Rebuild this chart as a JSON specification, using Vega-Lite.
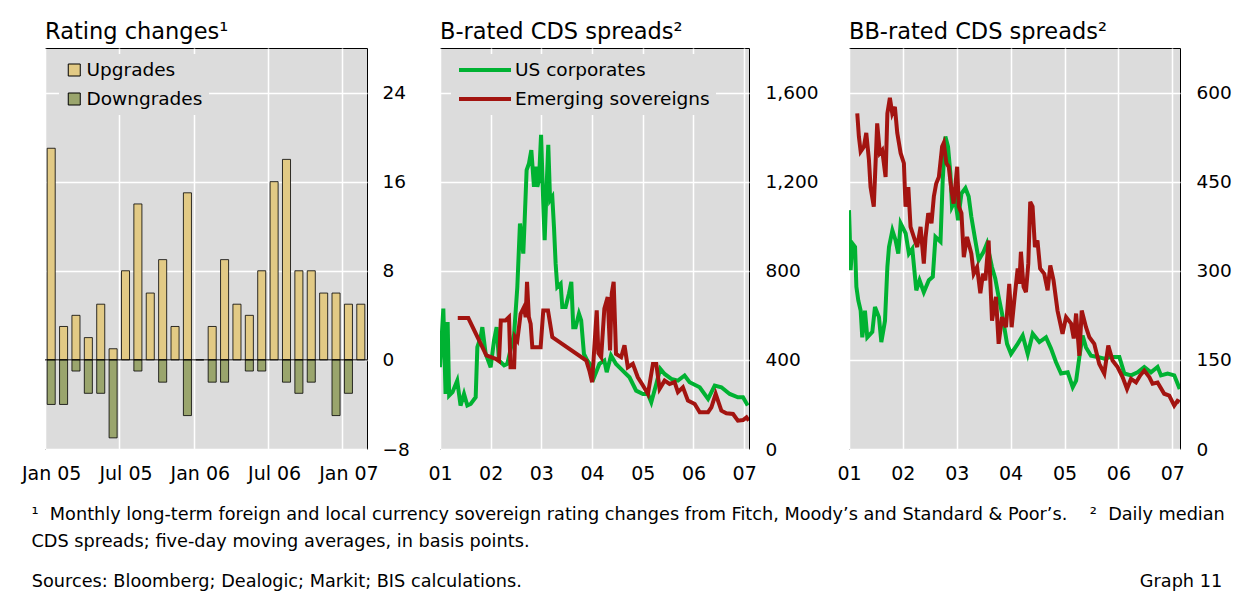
{
  "$schema": "https://vega.github.io/schema/vega-lite/v6.json",
  "background": "white",
  "padding": {"left": 20, "top": 20, "right": 0, "bottom": 0},
  "autosize": {"type": "pad"},
  "config": {
    "font": "DejaVu Sans",
    "view": {"fill": "#dcdcdc", "stroke": "#000000", "strokeWidth": 1},
    "axis": {"labelFontSize": 19, "labelColor": "#000000", "ticks": false, "domain": false, "grid": true, "gridColor": "#ffffff", "gridWidth": 1.5, "gridOpacity": 1, "labelAngle": 0,
      "titleFontSize": 17.7, "titleFontWeight": "normal", "titleColor": "#000000", "titleBaseline": "alphabetic", "titleLineHeight": 27},
    "axisY": {"labelFontSize": 18.5},
    "legend": {"labelFontSize": 18.5, "labelColor": "#000000", "fillColor": "#dcdcdc", "padding": 6, "clipHeight": 20, "rowPadding": 9, "labelLimit": 400},
    "title": {"fontSize": 22.5, "fontWeight": "normal", "color": "#000000", "anchor": "start", "frame": "group", "offset": 5}
  },
  "datasets": {
    "ratings": [
      {"month": "Jan 05", "type": "Upgrades", "value": 19}, {"month": "Feb 05", "type": "Upgrades", "value": 3},
      {"month": "Mar 05", "type": "Upgrades", "value": 4}, {"month": "Apr 05", "type": "Upgrades", "value": 2},
      {"month": "May 05", "type": "Upgrades", "value": 5}, {"month": "Jun 05", "type": "Upgrades", "value": 1},
      {"month": "Jul 05", "type": "Upgrades", "value": 8}, {"month": "Aug 05", "type": "Upgrades", "value": 14},
      {"month": "Sep 05", "type": "Upgrades", "value": 6}, {"month": "Oct 05", "type": "Upgrades", "value": 9},
      {"month": "Nov 05", "type": "Upgrades", "value": 3}, {"month": "Dec 05", "type": "Upgrades", "value": 15},
      {"month": "Jan 06", "type": "Upgrades", "value": 0}, {"month": "Feb 06", "type": "Upgrades", "value": 3},
      {"month": "Mar 06", "type": "Upgrades", "value": 9}, {"month": "Apr 06", "type": "Upgrades", "value": 5},
      {"month": "May 06", "type": "Upgrades", "value": 4}, {"month": "Jun 06", "type": "Upgrades", "value": 8},
      {"month": "Jul 06", "type": "Upgrades", "value": 16}, {"month": "Aug 06", "type": "Upgrades", "value": 18},
      {"month": "Sep 06", "type": "Upgrades", "value": 8}, {"month": "Oct 06", "type": "Upgrades", "value": 8},
      {"month": "Nov 06", "type": "Upgrades", "value": 6}, {"month": "Dec 06", "type": "Upgrades", "value": 6},
      {"month": "Jan 07", "type": "Upgrades", "value": 5}, {"month": "Feb 07", "type": "Upgrades", "value": 5},
      {"month": "Jan 05", "type": "Downgrades", "value": -4}, {"month": "Feb 05", "type": "Downgrades", "value": -4},
      {"month": "Mar 05", "type": "Downgrades", "value": -1}, {"month": "Apr 05", "type": "Downgrades", "value": -3},
      {"month": "May 05", "type": "Downgrades", "value": -3}, {"month": "Jun 05", "type": "Downgrades", "value": -7},
      {"month": "Aug 05", "type": "Downgrades", "value": -1}, {"month": "Oct 05", "type": "Downgrades", "value": -2},
      {"month": "Dec 05", "type": "Downgrades", "value": -5}, {"month": "Feb 06", "type": "Downgrades", "value": -2},
      {"month": "Mar 06", "type": "Downgrades", "value": -2}, {"month": "May 06", "type": "Downgrades", "value": -1},
      {"month": "Jun 06", "type": "Downgrades", "value": -1}, {"month": "Aug 06", "type": "Downgrades", "value": -2},
      {"month": "Sep 06", "type": "Downgrades", "value": -3}, {"month": "Oct 06", "type": "Downgrades", "value": -2},
      {"month": "Dec 06", "type": "Downgrades", "value": -5}, {"month": "Jan 07", "type": "Downgrades", "value": -3}
    ],
    "b": [
      {"date": "2001-01-01", "series": "US corporates", "value": 367},
      {"date": "2001-01-25", "series": "US corporates", "value": 630},
      {"date": "2001-02-10", "series": "US corporates", "value": 247},
      {"date": "2001-02-25", "series": "US corporates", "value": 570},
      {"date": "2001-03-08", "series": "US corporates", "value": 240},
      {"date": "2001-04-01", "series": "US corporates", "value": 255},
      {"date": "2001-05-05", "series": "US corporates", "value": 307},
      {"date": "2001-05-29", "series": "US corporates", "value": 195},
      {"date": "2001-06-23", "series": "US corporates", "value": 247},
      {"date": "2001-07-17", "series": "US corporates", "value": 195},
      {"date": "2001-08-10", "series": "US corporates", "value": 202},
      {"date": "2001-09-15", "series": "US corporates", "value": 232},
      {"date": "2001-09-27", "series": "US corporates", "value": 457},
      {"date": "2001-10-21", "series": "US corporates", "value": 502},
      {"date": "2001-11-02", "series": "US corporates", "value": 547},
      {"date": "2001-11-26", "series": "US corporates", "value": 427},
      {"date": "2002-01-01", "series": "US corporates", "value": 367},
      {"date": "2002-01-25", "series": "US corporates", "value": 487},
      {"date": "2002-02-13", "series": "US corporates", "value": 547},
      {"date": "2002-03-02", "series": "US corporates", "value": 397},
      {"date": "2002-04-08", "series": "US corporates", "value": 375},
      {"date": "2002-05-01", "series": "US corporates", "value": 382},
      {"date": "2002-06-19", "series": "US corporates", "value": 517},
      {"date": "2002-07-12", "series": "US corporates", "value": 727},
      {"date": "2002-07-31", "series": "US corporates", "value": 1012},
      {"date": "2002-08-24", "series": "US corporates", "value": 877},
      {"date": "2002-09-03", "series": "US corporates", "value": 1027},
      {"date": "2002-09-17", "series": "US corporates", "value": 1252},
      {"date": "2002-10-04", "series": "US corporates", "value": 1282},
      {"date": "2002-10-21", "series": "US corporates", "value": 1342},
      {"date": "2002-11-09", "series": "US corporates", "value": 1177},
      {"date": "2002-11-21", "series": "US corporates", "value": 1267},
      {"date": "2002-12-03", "series": "US corporates", "value": 1177},
      {"date": "2002-12-15", "series": "US corporates", "value": 1207},
      {"date": "2002-12-30", "series": "US corporates", "value": 1410},
      {"date": "2003-01-15", "series": "US corporates", "value": 1102},
      {"date": "2003-01-25", "series": "US corporates", "value": 937},
      {"date": "2003-02-08", "series": "US corporates", "value": 1177},
      {"date": "2003-02-20", "series": "US corporates", "value": 1365},
      {"date": "2003-03-05", "series": "US corporates", "value": 1117},
      {"date": "2003-03-21", "series": "US corporates", "value": 1132},
      {"date": "2003-04-02", "series": "US corporates", "value": 997},
      {"date": "2003-04-14", "series": "US corporates", "value": 832},
      {"date": "2003-04-26", "series": "US corporates", "value": 727},
      {"date": "2003-05-20", "series": "US corporates", "value": 742},
      {"date": "2003-06-01", "series": "US corporates", "value": 637},
      {"date": "2003-06-25", "series": "US corporates", "value": 637},
      {"date": "2003-07-19", "series": "US corporates", "value": 697},
      {"date": "2003-08-05", "series": "US corporates", "value": 750},
      {"date": "2003-08-19", "series": "US corporates", "value": 547},
      {"date": "2003-09-05", "series": "US corporates", "value": 547},
      {"date": "2003-09-29", "series": "US corporates", "value": 607},
      {"date": "2003-10-15", "series": "US corporates", "value": 577},
      {"date": "2003-11-04", "series": "US corporates", "value": 427},
      {"date": "2003-11-28", "series": "US corporates", "value": 397},
      {"date": "2003-12-17", "series": "US corporates", "value": 382},
      {"date": "2004-01-16", "series": "US corporates", "value": 322},
      {"date": "2004-02-23", "series": "US corporates", "value": 382},
      {"date": "2004-03-30", "series": "US corporates", "value": 397},
      {"date": "2004-04-16", "series": "US corporates", "value": 345},
      {"date": "2004-05-17", "series": "US corporates", "value": 420},
      {"date": "2004-06-22", "series": "US corporates", "value": 382},
      {"date": "2004-08-09", "series": "US corporates", "value": 352},
      {"date": "2004-09-27", "series": "US corporates", "value": 322},
      {"date": "2004-11-14", "series": "US corporates", "value": 262},
      {"date": "2005-01-02", "series": "US corporates", "value": 247},
      {"date": "2005-02-07", "series": "US corporates", "value": 247},
      {"date": "2005-03-03", "series": "US corporates", "value": 210},
      {"date": "2005-04-08", "series": "US corporates", "value": 292},
      {"date": "2005-05-07", "series": "US corporates", "value": 360},
      {"date": "2005-06-07", "series": "US corporates", "value": 337},
      {"date": "2005-07-25", "series": "US corporates", "value": 315},
      {"date": "2005-09-11", "series": "US corporates", "value": 307},
      {"date": "2005-10-29", "series": "US corporates", "value": 330},
      {"date": "2005-12-04", "series": "US corporates", "value": 300},
      {"date": "2006-02-15", "series": "US corporates", "value": 277},
      {"date": "2006-04-16", "series": "US corporates", "value": 225},
      {"date": "2006-06-03", "series": "US corporates", "value": 285},
      {"date": "2006-07-21", "series": "US corporates", "value": 277},
      {"date": "2006-09-19", "series": "US corporates", "value": 247},
      {"date": "2006-11-17", "series": "US corporates", "value": 232},
      {"date": "2006-12-24", "series": "US corporates", "value": 232},
      {"date": "2007-01-27", "series": "US corporates", "value": 195},
      {"date": "2001-05-09", "series": "Emerging sovereigns", "value": 588},
      {"date": "2001-07-24", "series": "Emerging sovereigns", "value": 588},
      {"date": "2001-12-01", "series": "Emerging sovereigns", "value": 420},
      {"date": "2002-02-06", "series": "Emerging sovereigns", "value": 405},
      {"date": "2002-03-02", "series": "Emerging sovereigns", "value": 395},
      {"date": "2002-03-15", "series": "Emerging sovereigns", "value": 577},
      {"date": "2002-04-18", "series": "Emerging sovereigns", "value": 577},
      {"date": "2002-05-13", "series": "Emerging sovereigns", "value": 592},
      {"date": "2002-05-24", "series": "Emerging sovereigns", "value": 367},
      {"date": "2002-06-19", "series": "Emerging sovereigns", "value": 367},
      {"date": "2002-06-26", "series": "Emerging sovereigns", "value": 502},
      {"date": "2002-07-12", "series": "Emerging sovereigns", "value": 487},
      {"date": "2002-08-05", "series": "Emerging sovereigns", "value": 607},
      {"date": "2002-08-29", "series": "Emerging sovereigns", "value": 637},
      {"date": "2002-09-10", "series": "Emerging sovereigns", "value": 592},
      {"date": "2002-09-20", "series": "Emerging sovereigns", "value": 750},
      {"date": "2002-10-03", "series": "Emerging sovereigns", "value": 592},
      {"date": "2002-10-16", "series": "Emerging sovereigns", "value": 562},
      {"date": "2002-10-28", "series": "Emerging sovereigns", "value": 457},
      {"date": "2002-12-27", "series": "Emerging sovereigns", "value": 457},
      {"date": "2003-01-15", "series": "Emerging sovereigns", "value": 622},
      {"date": "2003-02-18", "series": "Emerging sovereigns", "value": 622},
      {"date": "2003-03-21", "series": "Emerging sovereigns", "value": 502},
      {"date": "2003-11-21", "series": "Emerging sovereigns", "value": 397},
      {"date": "2003-12-13", "series": "Emerging sovereigns", "value": 352},
      {"date": "2004-01-02", "series": "Emerging sovereigns", "value": 300},
      {"date": "2004-01-18", "series": "Emerging sovereigns", "value": 457},
      {"date": "2004-02-04", "series": "Emerging sovereigns", "value": 622},
      {"date": "2004-02-16", "series": "Emerging sovereigns", "value": 430},
      {"date": "2004-03-07", "series": "Emerging sovereigns", "value": 412},
      {"date": "2004-03-30", "series": "Emerging sovereigns", "value": 630},
      {"date": "2004-04-23", "series": "Emerging sovereigns", "value": 682},
      {"date": "2004-05-10", "series": "Emerging sovereigns", "value": 442},
      {"date": "2004-05-22", "series": "Emerging sovereigns", "value": 697},
      {"date": "2004-06-05", "series": "Emerging sovereigns", "value": 750},
      {"date": "2004-06-22", "series": "Emerging sovereigns", "value": 427},
      {"date": "2004-07-29", "series": "Emerging sovereigns", "value": 412},
      {"date": "2004-08-22", "series": "Emerging sovereigns", "value": 465},
      {"date": "2004-09-15", "series": "Emerging sovereigns", "value": 367},
      {"date": "2004-10-21", "series": "Emerging sovereigns", "value": 382},
      {"date": "2004-11-26", "series": "Emerging sovereigns", "value": 322},
      {"date": "2005-01-02", "series": "Emerging sovereigns", "value": 285},
      {"date": "2005-02-07", "series": "Emerging sovereigns", "value": 247},
      {"date": "2005-03-15", "series": "Emerging sovereigns", "value": 382},
      {"date": "2005-04-08", "series": "Emerging sovereigns", "value": 382},
      {"date": "2005-05-02", "series": "Emerging sovereigns", "value": 270},
      {"date": "2005-06-07", "series": "Emerging sovereigns", "value": 307},
      {"date": "2005-07-13", "series": "Emerging sovereigns", "value": 292},
      {"date": "2005-08-18", "series": "Emerging sovereigns", "value": 300},
      {"date": "2005-09-11", "series": "Emerging sovereigns", "value": 255},
      {"date": "2005-10-17", "series": "Emerging sovereigns", "value": 277},
      {"date": "2005-11-22", "series": "Emerging sovereigns", "value": 217},
      {"date": "2006-01-10", "series": "Emerging sovereigns", "value": 202},
      {"date": "2006-02-15", "series": "Emerging sovereigns", "value": 165},
      {"date": "2006-04-16", "series": "Emerging sovereigns", "value": 165},
      {"date": "2006-05-10", "series": "Emerging sovereigns", "value": 187},
      {"date": "2006-06-10", "series": "Emerging sovereigns", "value": 247},
      {"date": "2006-07-21", "series": "Emerging sovereigns", "value": 172},
      {"date": "2006-08-26", "series": "Emerging sovereigns", "value": 160},
      {"date": "2006-10-13", "series": "Emerging sovereigns", "value": 157},
      {"date": "2006-11-17", "series": "Emerging sovereigns", "value": 127},
      {"date": "2006-12-24", "series": "Emerging sovereigns", "value": 130},
      {"date": "2007-01-18", "series": "Emerging sovereigns", "value": 142},
      {"date": "2007-02-04", "series": "Emerging sovereigns", "value": 127}
    ],
    "bb": [
      {"date": "2001-01-01", "series": "US corporates", "value": 402},
      {"date": "2001-01-06", "series": "US corporates", "value": 363},
      {"date": "2001-01-12", "series": "US corporates", "value": 301},
      {"date": "2001-01-24", "series": "US corporates", "value": 346},
      {"date": "2001-02-11", "series": "US corporates", "value": 340},
      {"date": "2001-02-20", "series": "US corporates", "value": 273},
      {"date": "2001-03-05", "series": "US corporates", "value": 250},
      {"date": "2001-03-21", "series": "US corporates", "value": 233},
      {"date": "2001-04-01", "series": "US corporates", "value": 188},
      {"date": "2001-04-19", "series": "US corporates", "value": 233},
      {"date": "2001-05-05", "series": "US corporates", "value": 188},
      {"date": "2001-06-08", "series": "US corporates", "value": 197},
      {"date": "2001-06-26", "series": "US corporates", "value": 239},
      {"date": "2001-07-23", "series": "US corporates", "value": 222},
      {"date": "2001-08-08", "series": "US corporates", "value": 180},
      {"date": "2001-09-02", "series": "US corporates", "value": 216},
      {"date": "2001-09-18", "series": "US corporates", "value": 306},
      {"date": "2001-09-29", "series": "US corporates", "value": 340},
      {"date": "2001-10-22", "series": "US corporates", "value": 368},
      {"date": "2001-11-13", "series": "US corporates", "value": 351},
      {"date": "2001-12-01", "series": "US corporates", "value": 329},
      {"date": "2001-12-17", "series": "US corporates", "value": 380},
      {"date": "2002-01-20", "series": "US corporates", "value": 363},
      {"date": "2002-02-11", "series": "US corporates", "value": 329},
      {"date": "2002-03-06", "series": "US corporates", "value": 337},
      {"date": "2002-04-02", "series": "US corporates", "value": 267},
      {"date": "2002-04-24", "series": "US corporates", "value": 284},
      {"date": "2002-05-23", "series": "US corporates", "value": 264},
      {"date": "2002-06-26", "series": "US corporates", "value": 284},
      {"date": "2002-07-23", "series": "US corporates", "value": 290},
      {"date": "2002-08-10", "series": "US corporates", "value": 357},
      {"date": "2002-09-13", "series": "US corporates", "value": 349},
      {"date": "2002-09-28", "series": "US corporates", "value": 453},
      {"date": "2002-10-16", "series": "US corporates", "value": 526},
      {"date": "2002-11-03", "series": "US corporates", "value": 509},
      {"date": "2002-11-19", "series": "US corporates", "value": 464},
      {"date": "2002-11-30", "series": "US corporates", "value": 408},
      {"date": "2002-12-22", "series": "US corporates", "value": 419},
      {"date": "2003-01-10", "series": "US corporates", "value": 385},
      {"date": "2003-02-02", "series": "US corporates", "value": 430},
      {"date": "2003-03-01", "series": "US corporates", "value": 439},
      {"date": "2003-03-23", "series": "US corporates", "value": 425},
      {"date": "2003-04-10", "series": "US corporates", "value": 391},
      {"date": "2003-05-07", "series": "US corporates", "value": 351},
      {"date": "2003-05-30", "series": "US corporates", "value": 318},
      {"date": "2003-07-02", "series": "US corporates", "value": 332},
      {"date": "2003-07-25", "series": "US corporates", "value": 346},
      {"date": "2003-08-28", "series": "US corporates", "value": 306},
      {"date": "2003-09-19", "series": "US corporates", "value": 287},
      {"date": "2003-10-12", "series": "US corporates", "value": 256},
      {"date": "2003-11-04", "series": "US corporates", "value": 228},
      {"date": "2003-12-08", "series": "US corporates", "value": 177},
      {"date": "2004-01-04", "series": "US corporates", "value": 160},
      {"date": "2004-02-18", "series": "US corporates", "value": 177},
      {"date": "2004-03-23", "series": "US corporates", "value": 191},
      {"date": "2004-04-26", "series": "US corporates", "value": 160},
      {"date": "2004-05-30", "series": "US corporates", "value": 194},
      {"date": "2004-07-14", "series": "US corporates", "value": 180},
      {"date": "2004-08-28", "series": "US corporates", "value": 188},
      {"date": "2004-10-01", "series": "US corporates", "value": 169},
      {"date": "2004-11-04", "series": "US corporates", "value": 146},
      {"date": "2004-12-08", "series": "US corporates", "value": 127},
      {"date": "2005-01-22", "series": "US corporates", "value": 129},
      {"date": "2005-02-25", "series": "US corporates", "value": 104},
      {"date": "2005-03-20", "series": "US corporates", "value": 115},
      {"date": "2005-04-11", "series": "US corporates", "value": 155},
      {"date": "2005-05-03", "series": "US corporates", "value": 191},
      {"date": "2005-05-26", "series": "US corporates", "value": 171},
      {"date": "2005-06-29", "series": "US corporates", "value": 157},
      {"date": "2005-08-13", "series": "US corporates", "value": 155},
      {"date": "2005-09-27", "series": "US corporates", "value": 152},
      {"date": "2005-11-11", "series": "US corporates", "value": 155},
      {"date": "2006-01-07", "series": "US corporates", "value": 155},
      {"date": "2006-02-10", "series": "US corporates", "value": 127},
      {"date": "2006-03-27", "series": "US corporates", "value": 124},
      {"date": "2006-05-11", "series": "US corporates", "value": 129},
      {"date": "2006-06-25", "series": "US corporates", "value": 138},
      {"date": "2006-08-09", "series": "US corporates", "value": 129},
      {"date": "2006-09-23", "series": "US corporates", "value": 138},
      {"date": "2006-10-16", "series": "US corporates", "value": 124},
      {"date": "2006-11-30", "series": "US corporates", "value": 127},
      {"date": "2007-01-14", "series": "US corporates", "value": 124},
      {"date": "2007-02-20", "series": "US corporates", "value": 101},
      {"date": "2001-02-26", "series": "Emerging sovereigns", "value": 565},
      {"date": "2001-03-09", "series": "Emerging sovereigns", "value": 526},
      {"date": "2001-03-21", "series": "Emerging sovereigns", "value": 501},
      {"date": "2001-04-12", "series": "Emerging sovereigns", "value": 509},
      {"date": "2001-04-28", "series": "Emerging sovereigns", "value": 532},
      {"date": "2001-05-16", "series": "Emerging sovereigns", "value": 487},
      {"date": "2001-05-27", "series": "Emerging sovereigns", "value": 441},
      {"date": "2001-06-18", "series": "Emerging sovereigns", "value": 408},
      {"date": "2001-07-11", "series": "Emerging sovereigns", "value": 548},
      {"date": "2001-07-29", "series": "Emerging sovereigns", "value": 498},
      {"date": "2001-08-14", "series": "Emerging sovereigns", "value": 503},
      {"date": "2001-09-06", "series": "Emerging sovereigns", "value": 458},
      {"date": "2001-09-18", "series": "Emerging sovereigns", "value": 565},
      {"date": "2001-10-05", "series": "Emerging sovereigns", "value": 591},
      {"date": "2001-10-21", "series": "Emerging sovereigns", "value": 565},
      {"date": "2001-11-08", "series": "Emerging sovereigns", "value": 576},
      {"date": "2001-11-24", "series": "Emerging sovereigns", "value": 532},
      {"date": "2001-12-17", "series": "Emerging sovereigns", "value": 498},
      {"date": "2002-01-08", "series": "Emerging sovereigns", "value": 481},
      {"date": "2002-01-19", "series": "Emerging sovereigns", "value": 408},
      {"date": "2002-02-07", "series": "Emerging sovereigns", "value": 441},
      {"date": "2002-02-22", "series": "Emerging sovereigns", "value": 374},
      {"date": "2002-03-16", "series": "Emerging sovereigns", "value": 357},
      {"date": "2002-04-08", "series": "Emerging sovereigns", "value": 340},
      {"date": "2002-05-01", "series": "Emerging sovereigns", "value": 374},
      {"date": "2002-05-23", "series": "Emerging sovereigns", "value": 312},
      {"date": "2002-06-04", "series": "Emerging sovereigns", "value": 357},
      {"date": "2002-06-22", "series": "Emerging sovereigns", "value": 397},
      {"date": "2002-07-14", "series": "Emerging sovereigns", "value": 380},
      {"date": "2002-07-30", "series": "Emerging sovereigns", "value": 425},
      {"date": "2002-08-15", "series": "Emerging sovereigns", "value": 447},
      {"date": "2002-09-02", "series": "Emerging sovereigns", "value": 458},
      {"date": "2002-09-24", "series": "Emerging sovereigns", "value": 509},
      {"date": "2002-10-05", "series": "Emerging sovereigns", "value": 515},
      {"date": "2002-10-23", "series": "Emerging sovereigns", "value": 481},
      {"date": "2002-11-08", "series": "Emerging sovereigns", "value": 475},
      {"date": "2002-11-26", "series": "Emerging sovereigns", "value": 436},
      {"date": "2002-12-11", "series": "Emerging sovereigns", "value": 413},
      {"date": "2003-01-04", "series": "Emerging sovereigns", "value": 475},
      {"date": "2003-01-15", "series": "Emerging sovereigns", "value": 408},
      {"date": "2003-02-02", "series": "Emerging sovereigns", "value": 397},
      {"date": "2003-02-18", "series": "Emerging sovereigns", "value": 323},
      {"date": "2003-03-12", "series": "Emerging sovereigns", "value": 357},
      {"date": "2003-04-10", "series": "Emerging sovereigns", "value": 329},
      {"date": "2003-04-26", "series": "Emerging sovereigns", "value": 295},
      {"date": "2003-05-19", "series": "Emerging sovereigns", "value": 306},
      {"date": "2003-06-10", "series": "Emerging sovereigns", "value": 262},
      {"date": "2003-06-28", "series": "Emerging sovereigns", "value": 295},
      {"date": "2003-07-14", "series": "Emerging sovereigns", "value": 284},
      {"date": "2003-08-05", "series": "Emerging sovereigns", "value": 351},
      {"date": "2003-08-28", "series": "Emerging sovereigns", "value": 216},
      {"date": "2003-09-24", "series": "Emerging sovereigns", "value": 256},
      {"date": "2003-10-12", "series": "Emerging sovereigns", "value": 177},
      {"date": "2003-11-04", "series": "Emerging sovereigns", "value": 222},
      {"date": "2003-12-01", "series": "Emerging sovereigns", "value": 205},
      {"date": "2003-12-23", "series": "Emerging sovereigns", "value": 278},
      {"date": "2004-01-08", "series": "Emerging sovereigns", "value": 205},
      {"date": "2004-01-26", "series": "Emerging sovereigns", "value": 250},
      {"date": "2004-02-18", "series": "Emerging sovereigns", "value": 304},
      {"date": "2004-02-29", "series": "Emerging sovereigns", "value": 278},
      {"date": "2004-03-11", "series": "Emerging sovereigns", "value": 332},
      {"date": "2004-03-29", "series": "Emerging sovereigns", "value": 273},
      {"date": "2004-04-14", "series": "Emerging sovereigns", "value": 264},
      {"date": "2004-04-30", "series": "Emerging sovereigns", "value": 312},
      {"date": "2004-05-13", "series": "Emerging sovereigns", "value": 416},
      {"date": "2004-05-29", "series": "Emerging sovereigns", "value": 408},
      {"date": "2004-06-14", "series": "Emerging sovereigns", "value": 340},
      {"date": "2004-07-01", "series": "Emerging sovereigns", "value": 351},
      {"date": "2004-07-19", "series": "Emerging sovereigns", "value": 304},
      {"date": "2004-08-16", "series": "Emerging sovereigns", "value": 295},
      {"date": "2004-09-08", "series": "Emerging sovereigns", "value": 267},
      {"date": "2004-09-26", "series": "Emerging sovereigns", "value": 309},
      {"date": "2004-10-18", "series": "Emerging sovereigns", "value": 284},
      {"date": "2004-11-14", "series": "Emerging sovereigns", "value": 233},
      {"date": "2004-12-18", "series": "Emerging sovereigns", "value": 194},
      {"date": "2005-01-11", "series": "Emerging sovereigns", "value": 222},
      {"date": "2005-02-14", "series": "Emerging sovereigns", "value": 211},
      {"date": "2005-03-04", "series": "Emerging sovereigns", "value": 186},
      {"date": "2005-03-20", "series": "Emerging sovereigns", "value": 228},
      {"date": "2005-04-11", "series": "Emerging sovereigns", "value": 157},
      {"date": "2005-04-27", "series": "Emerging sovereigns", "value": 233},
      {"date": "2005-05-26", "series": "Emerging sovereigns", "value": 205},
      {"date": "2005-06-18", "series": "Emerging sovereigns", "value": 188},
      {"date": "2005-07-21", "series": "Emerging sovereigns", "value": 177},
      {"date": "2005-08-24", "series": "Emerging sovereigns", "value": 143},
      {"date": "2005-09-27", "series": "Emerging sovereigns", "value": 127},
      {"date": "2005-10-24", "series": "Emerging sovereigns", "value": 174},
      {"date": "2005-11-22", "series": "Emerging sovereigns", "value": 149},
      {"date": "2005-12-26", "series": "Emerging sovereigns", "value": 138},
      {"date": "2006-01-29", "series": "Emerging sovereigns", "value": 121},
      {"date": "2006-02-28", "series": "Emerging sovereigns", "value": 101},
      {"date": "2006-03-27", "series": "Emerging sovereigns", "value": 118},
      {"date": "2006-04-30", "series": "Emerging sovereigns", "value": 112},
      {"date": "2006-05-29", "series": "Emerging sovereigns", "value": 124},
      {"date": "2006-06-25", "series": "Emerging sovereigns", "value": 132},
      {"date": "2006-07-29", "series": "Emerging sovereigns", "value": 121},
      {"date": "2006-08-20", "series": "Emerging sovereigns", "value": 110},
      {"date": "2006-09-23", "series": "Emerging sovereigns", "value": 112},
      {"date": "2006-11-07", "series": "Emerging sovereigns", "value": 93},
      {"date": "2006-12-11", "series": "Emerging sovereigns", "value": 90},
      {"date": "2007-01-14", "series": "Emerging sovereigns", "value": 73},
      {"date": "2007-02-05", "series": "Emerging sovereigns", "value": 81},
      {"date": "2007-02-20", "series": "Emerging sovereigns", "value": 79}
    ]
  },
  "bounds": "flush",
  "spacing": 73,
  "resolve": {"scale": {"color": "independent"}, "legend": {"color": "independent"}},
  "hconcat": [
    {
      "width": 322,
      "height": 401,
      "title": {"text": "Rating changes¹"},
      "data": {"name": "ratings"},
      "layer": [
        {
          "mark": {"type": "bar", "stroke": "#000000", "strokeWidth": 0.8},
          "encoding": {
            "x": {"field": "month", "type": "nominal", "sort": null,
              "scale": {"paddingInner": 0.35, "paddingOuter": 0.175},
              "axis": {"values": ["Jan 05", "Jul 05", "Jan 06", "Jul 06", "Jan 07"], "labelAngle": 0, "bandPosition": 0.5, "tickOffset": -6.19, "labelOffset": 6.19, "labelPadding": 15, "labelOverlap": false,
                "title": ["¹\u00a0\u00a0Monthly long-term foreign and local currency sovereign rating changes from Fitch, Moody’s and Standard & Poor’s.\u00a0\u00a0\u00a0\u00a0²\u00a0\u00a0Daily median", "CDS spreads; five-day moving averages, in basis points."],
                "titleX": -14, "titleY": 70.5, "titleAlign": "left", "titleAnchor": "start"}},
            "y": {"field": "value", "type": "quantitative", "stack": null,
              "scale": {"domain": [-8, 28], "nice": false, "zero": false},
              "axis": {"title": null, "orient": "right", "values": [-8, 0, 8, 16, 24], "labelPadding": 15}},
            "color": {"field": "type", "type": "nominal",
              "scale": {"domain": ["Upgrades", "Downgrades"], "range": ["#e2ca85", "#9aa56d"]},
              "legend": {"title": null, "orient": "none", "legendX": 14, "legendY": 6, "symbolType": "square", "symbolSize": 144, "symbolStrokeColor": "#000000", "symbolStrokeWidth": 1, "labelOffset": 3}}
          }
        },
        {
          "data": {"values": [{}]},
          "mark": {"type": "rule", "color": "#000000", "strokeWidth": 1},
          "encoding": {"y": {"datum": 0}}
        }
      ]
    },
    {
      "bounds": "flush",
      "spacing": 100,
      "resolve": {"scale": {"color": "independent"}, "legend": {"color": "independent"}},
      "hconcat": [
        {
          "width": 309,
          "height": 401,
          "title": {"text": "B-rated CDS spreads²"},
          "data": {"name": "b"},
          "mark": {"type": "line", "strokeWidth": 4, "clip": true},
          "encoding": {
            "x": {"field": "date", "type": "temporal",
              "scale": {"domain": [{"year": 2001, "month": 1, "date": 1}, {"year": 2007, "month": 2, "date": 5}]},
              "axis": {"format": "%y", "labelFlush": false, "labelPadding": 15, "labelOverlap": false,
                "values": [{"year": 2001, "month": 1, "date": 1}, {"year": 2002, "month": 1, "date": 1}, {"year": 2003, "month": 1, "date": 1}, {"year": 2004, "month": 1, "date": 1}, {"year": 2005, "month": 1, "date": 1}, {"year": 2006, "month": 1, "date": 1}, {"year": 2007, "month": 1, "date": 1}],
                "title": "Sources: Bloomberg; Dealogic; Markit; BIS calculations.", "titleX": -408.7, "titleY": 137.5, "titleAlign": "left", "titleAnchor": "start"}},
            "y": {"field": "value", "type": "quantitative",
              "scale": {"domain": [0, 1800], "nice": false},
              "axis": {"title": null, "orient": "right", "values": [0, 400, 800, 1200, 1600], "format": ",.0f", "labelPadding": 16}},
            "color": {"field": "series", "type": "nominal",
              "scale": {"domain": ["US corporates", "Emerging sovereigns"], "range": ["#00b232", "#a31410"]},
              "legend": {"title": null, "orient": "none", "legendX": 11, "legendY": 6, "symbolType": "stroke", "symbolSize": 2704, "symbolStrokeWidth": 4, "labelOffset": 2}}
          }
        },
        {
          "width": 331,
          "height": 401,
          "title": {"text": "BB-rated CDS spreads²"},
          "data": {"name": "bb"},
          "mark": {"type": "line", "strokeWidth": 4, "clip": true},
          "encoding": {
            "x": {"field": "date", "type": "temporal",
              "scale": {"domain": [{"year": 2001, "month": 1, "date": 1}, {"year": 2007, "month": 2, "date": 22}]},
              "axis": {"format": "%y", "labelFlush": false, "labelPadding": 15, "labelOverlap": false,
                "values": [{"year": 2001, "month": 1, "date": 1}, {"year": 2002, "month": 1, "date": 1}, {"year": 2003, "month": 1, "date": 1}, {"year": 2004, "month": 1, "date": 1}, {"year": 2005, "month": 1, "date": 1}, {"year": 2006, "month": 1, "date": 1}, {"year": 2007, "month": 1, "date": 1}],
                "title": "Graph 11", "titleX": 372.7, "titleY": 137.5, "titleAlign": "right", "titleAnchor": "end"}},
            "y": {"field": "value", "type": "quantitative",
              "scale": {"domain": [0, 675], "nice": false},
              "axis": {"title": null, "orient": "right", "values": [0, 150, 300, 450, 600], "labelPadding": 16}},
            "color": {"field": "series", "type": "nominal",
              "scale": {"domain": ["US corporates", "Emerging sovereigns"], "range": ["#00b232", "#a31410"]},
              "legend": null}
          }
        }
      ]
    }
  ]
}
